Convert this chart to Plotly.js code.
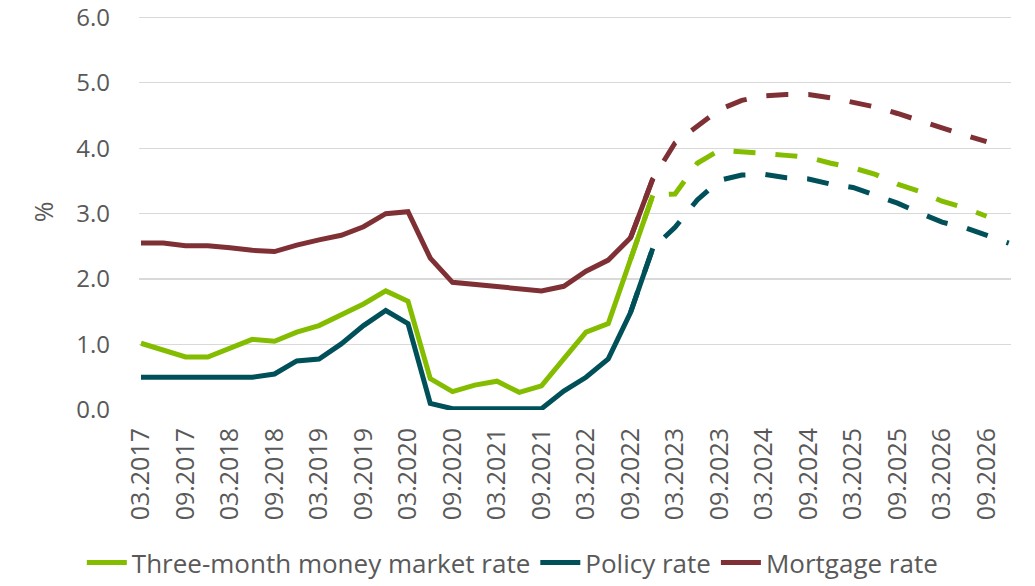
<!DOCTYPE html>
<html>
<head>
<meta charset="utf-8">
<script src="https://cdn.plot.ly/plotly-3.0.1.min.js"></script>
<style>html,body{margin:0;padding:0;background:#fff;}#chart{width:1035px;height:586px;}</style>
</head>
<body>
<div id="chart"></div>
<script>
// Quarterly periods 03.2017 ... 12.2026
const periods = ["03.2017","06.2017","09.2017","12.2017","03.2018","06.2018","09.2018","12.2018",
  "03.2019","06.2019","09.2019","12.2019","03.2020","06.2020","09.2020","12.2020",
  "03.2021","06.2021","09.2021","12.2021","03.2022","06.2022","09.2022","12.2022",
  "03.2023","06.2023","09.2023","12.2023","03.2024","06.2024","09.2024","12.2024",
  "03.2025","06.2025","09.2025","12.2025","03.2026","06.2026","09.2026","12.2026"];
const tickLabels = ["03.2017","09.2017","03.2018","09.2018","03.2019","09.2019","03.2020","09.2020",
  "03.2021","09.2021","03.2022","09.2022","03.2023","09.2023","03.2024","09.2024",
  "03.2025","09.2025","03.2026","09.2026"];
const yTicks = [0,1,2,3,4,5,6];

// Actual values (03.2017 - 12.2022)
const moneyMarketActual = [1.02,0.92,0.81,0.81,0.95,1.08,1.05,1.19,1.29,1.46,1.62,1.82,1.66,0.48,0.28,0.38,0.44,0.27,0.37,0.78,1.19,1.32,2.30,3.28];
const policyActual = [0.50,0.50,0.50,0.50,0.50,0.50,0.55,0.75,0.78,1.01,1.29,1.52,1.32,0.10,0.02,0.02,0.02,0.02,0.02,0.29,0.50,0.78,1.49,2.47];
const mortgageActual = [2.55,2.55,2.51,2.51,2.48,2.44,2.42,2.52,2.60,2.67,2.80,3.00,3.03,2.32,1.95,1.92,1.89,1.86,1.82,1.89,2.12,2.29,2.63,3.53];

// Forecast path (09.2022 onward, joining the last actual observations)
const moneyMarketForecast = [2.30,3.28,3.30,3.77,3.97,3.95,3.92,3.89,3.86,3.77,3.70,3.60,3.45,3.34,3.19,3.09,2.96];
const policyForecast = [1.49,2.47,2.79,3.21,3.51,3.59,3.60,3.55,3.53,3.45,3.40,3.29,3.16,3.01,2.87,2.79,2.67,2.55];
const mortgageForecast = [2.63,3.53,4.08,4.34,4.59,4.73,4.80,4.82,4.82,4.77,4.70,4.63,4.53,4.43,4.31,4.20,4.10];

const forecastStart = periods.indexOf("09.2022");
const xActual = moneyMarketActual.map((v,i)=>i);
const xf = arr => arr.map((v,i)=>i+forecastStart);
const tickVals = tickLabels.map(t => periods.indexOf(t));

const cGreen = "#84bd00", cTeal = "#00505a", cRed = "#7f3035";
const W = 5;
const dashPat = "22px,20px";

const traces = [
  {x: xf(mortgageForecast), y: mortgageForecast, mode:"lines", line:{color:cRed,width:W,dash:dashPat}, showlegend:false, hoverinfo:"skip"},
  {x: xf(moneyMarketForecast), y: moneyMarketForecast, mode:"lines", line:{color:cGreen,width:W,dash:dashPat}, showlegend:false, hoverinfo:"skip"},
  {x: xf(policyForecast), y: policyForecast, mode:"lines", line:{color:cTeal,width:W,dash:dashPat}, showlegend:false, hoverinfo:"skip"},
  {x: xActual, y: mortgageActual, name:"Mortgage rate", mode:"lines", line:{color:cRed,width:W}, legendrank:3},
  {x: xActual, y: policyActual, name:"Policy rate", mode:"lines", line:{color:cTeal,width:W}, legendrank:2},
  {x: xActual, y: moneyMarketActual, name:"Three-month money market rate", mode:"lines", line:{color:cGreen,width:W}, legendrank:1}
];

const font = {family:"Open Sans, Noto Sans, sans-serif", size:26, color:"#595959"};
const layout = {
  width:1035, height:586,
  margin:{l:139, r:24, t:14, b:176},
  paper_bgcolor:"#fff", plot_bgcolor:"#fff",
  font: font,
  showlegend:true,
  legend:{orientation:"h", xref:"container", yref:"container", x:0.495, xanchor:"center", y:-0.016, yanchor:"bottom",
          font:{family:font.family, size:26, color:"#595959"}, itemwidth:40, traceorder:"normal", tracegroupgap:0},
  xaxis:{range:[-0.09,39.1], tickvals:tickVals, ticktext:tickLabels, tickangle:-90,
         showgrid:false, zeroline:false, showline:false, ticks:"", ticklabelstandoff:12,
         tickfont:{family:font.family, size:25, color:"#595959"}, fixedrange:true},
  yaxis:{range:[0,6.05], tickvals:yTicks, tickformat:".1f", showgrid:true, gridcolor:"#d9d9d9", gridwidth:1.3,
         zeroline:false, showline:false, ticks:"", ticklabelstandoff:28, ticklabeloverflow:"allow",
         tickfont:{family:font.family, size:24, color:"#595959"},
         title:{text:"%", font:{family:font.family, size:25, color:"#595959"}, standoff:15}, automargin:false, fixedrange:true}
};
Plotly.newPlot("chart", traces, layout, {displayModeBar:false, staticPlot:true});
</script>
</body>
</html>
